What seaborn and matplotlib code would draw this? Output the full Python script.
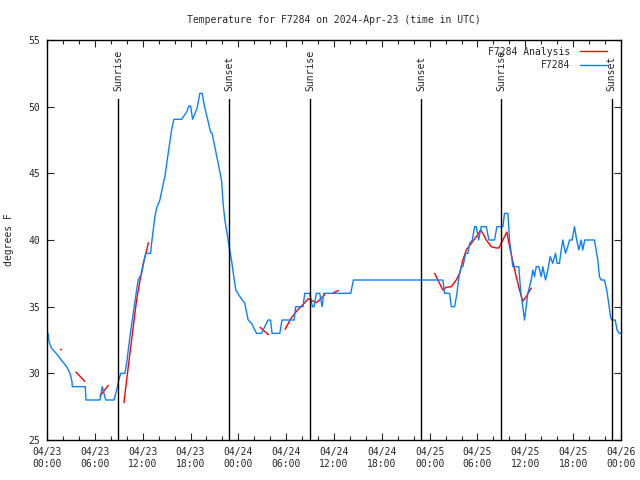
#!/usr/bin/env python3
import numpy as np
import matplotlib
matplotlib.use('Agg')
import matplotlib.pyplot as plt
from matplotlib.lines import Line2D
import pandas as pd
import seaborn as sns

# hours after 04/23 00:00 UTC, temperature in F
obs_hours = [0.13, 0.25, 0.54, 1.29, 1.92, 2.47, 2.88, 3.13, 3.17, 4.80, 4.89, 6.65, 6.93, 7.36,
             8.40, 8.81, 8.90, 9.24, 9.77, 9.99, 10.40, 10.82, 11.24, 11.44, 11.87, 12.28, 12.41,
             12.99, 13.12, 13.32, 13.53, 13.75, 14.16, 14.50, 14.79, 15.20, 15.63, 15.91, 16.88,
             17.51, 17.79, 18.01, 18.26, 18.83, 19.17, 19.46, 19.80, 20.21, 20.51, 20.71, 21.05,
             21.47, 21.89, 22.09, 22.31, 22.59, 22.84, 23.14, 23.43, 23.68, 24.19, 24.81, 25.23,
             25.65, 26.28, 26.90, 27.73, 28.03, 28.23, 29.20, 29.48, 30.99, 31.20, 32.11, 32.33,
             32.96, 33.29, 33.49, 33.79, 34.21, 34.50, 34.71, 38.10, 38.43, 49.66, 49.87, 50.50,
             50.71, 51.13, 51.42, 51.67, 51.97, 52.17, 52.51, 52.80, 53.01, 53.35, 53.63, 53.85,
             54.14, 54.47, 55.10, 55.43, 56.14, 56.43, 57.18, 57.39, 57.81, 58.02, 58.23, 58.43,
             59.18, 59.40, 59.68, 59.90, 60.11, 60.31, 60.74, 60.94, 61.15, 61.36, 61.69, 61.99,
             62.19, 62.53, 62.82, 63.12, 63.44, 63.78, 63.99, 64.28, 64.50, 64.70, 65.04, 65.32,
             65.54, 65.87, 66.16, 66.37, 66.70, 67.00, 67.20, 67.45, 68.67, 69.09, 69.30, 69.51,
             69.92, 70.21, 70.46, 70.68, 70.84, 71.27, 71.51, 71.77, 72.00]
obs_temps = [33.0, 32.4, 31.9, 31.4, 30.9, 30.5, 30.0, 29.4, 29.0, 29.0, 28.0, 28.0, 29.0, 28.0,
             28.0, 28.9, 29.25, 30.0, 30.0, 30.75, 32.75, 34.5, 36.25, 37.0, 37.5, 38.75, 39.0,
             39.0, 39.75, 40.75, 41.75, 42.4, 43.0, 44.0, 44.75, 46.5, 48.25, 49.05, 49.05,
             49.6, 50.05, 50.05, 49.05, 49.9, 51.0, 51.0, 49.9, 48.9, 48.1, 48.0, 47.0,
             45.75, 44.5, 42.75, 41.5, 40.5, 39.5, 38.5, 37.25, 36.25, 35.75, 35.25, 34.0,
             33.75, 33.0, 33.0, 34.0, 34.0, 33.0, 33.0, 34.0, 34.0, 35.0, 35.0, 36.0,
             36.0, 35.0, 35.0, 36.0, 36.0, 35.0, 36.0, 36.0, 37.0, 37.0, 36.0, 36.0,
             35.0, 35.0, 36.0, 37.25, 38.0, 38.0, 39.0, 39.0, 39.75, 40.0, 41.0, 41.0,
             40.0, 41.0, 41.0, 40.0, 40.0, 41.0, 41.0, 42.0, 42.0, 40.0, 39.0, 38.0,
             38.0, 36.25, 35.0, 34.0, 35.0, 36.0, 37.0, 37.75, 37.25, 38.0, 38.0, 37.25,
             38.0, 37.0, 37.75, 38.75, 38.25, 39.0, 38.25, 38.25, 39.25, 40.0, 39.0, 39.5,
             40.0, 40.0, 41.0, 40.25, 39.25, 40.0, 39.25, 40.0, 40.0, 38.5, 37.25, 37.0,
             37.0, 36.25, 35.25, 34.25, 34.0, 34.0, 33.25, 33.0, 33.0]

# analysis curve, drawn in separate pieces
ana_seg = [1, 1,
           2, 2,
           3, 3,
           4, 4, 4, 4, 4, 4, 4, 4, 4,
           5, 5,
           6, 6, 6, 6, 6, 6, 6,
           7, 7,
           8, 8, 8, 8, 8, 8, 8, 8, 8, 8, 8, 8, 8, 8, 8, 8, 8, 8, 8, 8, 8, 8, 8, 8, 8, 8]
ana_hours = [1.60, 1.70,
             3.63, 4.72,
             6.65, 7.69,
             9.65, 9.99, 10.40, 10.82, 11.24, 11.67, 12.08, 12.51, 12.71,
             26.73, 27.77,
             29.86, 30.58, 31.42, 32.25, 32.77, 33.81, 34.85,
             35.90, 36.55,
             48.62, 49.03, 49.66, 50.08, 50.71, 51.33, 51.75, 52.17, 52.59, 53.22, 53.85, 54.39,
             54.67, 55.10, 55.72, 56.35, 56.68, 57.18, 57.68, 58.02, 58.43, 58.86, 59.27, 59.68,
             60.11, 60.74]
ana_temps = [31.8, 31.8,
             30.1, 29.4,
             28.3, 29.1,
             27.8, 29.5, 31.5, 33.5, 35.5, 37.0, 38.25, 39.25, 39.8,
             33.45, 32.9,
             33.3, 34.1, 34.75, 35.25, 35.6, 35.3, 35.9,
             36.05, 36.2,
             37.5, 37.0, 36.25, 36.45, 36.5, 37.0, 37.5, 38.5, 39.25, 39.75, 40.25, 40.75,
             40.5, 40.0, 39.5, 39.4, 39.4, 40.0, 40.6, 39.5, 38.4, 37.25, 36.25, 35.4,
             35.75, 36.4]

sun_hours = [8.94, 22.87, 33.04, 46.92, 56.95, 70.84]
sun_labels = ['Sunrise', 'Sunset', 'Sunrise', 'Sunset', 'Sunrise', 'Sunset']

tick_hours = [0, 6, 12, 18, 24, 30, 36, 42, 48, 54, 60, 66, 72]
tick_labels = ['04/23\n00:00', '04/23\n06:00', '04/23\n12:00', '04/23\n18:00',
               '04/24\n00:00', '04/24\n06:00', '04/24\n12:00', '04/24\n18:00',
               '04/25\n00:00', '04/25\n06:00', '04/25\n12:00', '04/25\n18:00',
               '04/26\n00:00']

sns.set_style('ticks')
plt.rcParams['font.family'] = ['DejaVu Sans Mono']
plt.rcParams['font.size'] = 7

BLUE = '#0a80ff'

obs = pd.DataFrame({'hour': obs_hours, 'temp': obs_temps})
ana = pd.DataFrame({'seg': ana_seg, 'hour': ana_hours, 'temp': ana_temps})

fig = plt.figure(figsize=(6.4, 4.8), dpi=100)
ax = fig.add_axes([47 / 640, 40 / 480, 574 / 640, 400 / 480])

sns.lineplot(data=ana, x='hour', y='temp', units='seg', estimator=None,
             color='red', linewidth=1.0, ax=ax, legend=False)
sns.lineplot(data=obs, x='hour', y='temp', color=BLUE, linewidth=1.0, ax=ax,
             legend=False)

for h, lab in zip(sun_hours, sun_labels):
    ax.plot([h, h], [25, 50.6], color='black', linewidth=1.0)
    ax.text(h, 51.2, lab, rotation=90, ha='center', va='bottom', fontsize=7)

ax.set_xlim(0, 72)
ax.set_ylim(25, 55)
ax.set_xticks(tick_hours)
ax.set_xticklabels(tick_labels)
ax.set_xticks(np.arange(0, 73, 2), minor=True)
ax.set_yticks(np.arange(25, 56, 5))
ax.tick_params(which='both', direction='in', top=True, right=True, width=0.8)
ax.tick_params(which='major', length=5, pad=5)
ax.tick_params(which='minor', length=3)
for s in ax.spines.values():
    s.set_linewidth(1.0)
    s.set_color('black')

ax.set_xlabel('')
ax.set_ylabel('degrees F', labelpad=10)
ax.set_title('Temperature for F7284 on 2024-Apr-23 (time in UTC)', fontsize=7, pad=12.5)

handles = [Line2D([], [], color='red', linewidth=1.0),
           Line2D([], [], color=BLUE, linewidth=1.0)]
ax.legend(handles, ['F7284 Analysis', 'F7284'], loc='upper right',
          bbox_to_anchor=(0.984, 0.995), frameon=False, markerfirst=False,
          handlelength=2.8, handletextpad=1.0, labelspacing=0.35, borderpad=0,
          fontsize=7)

fig.savefig('out.png', dpi=100)
